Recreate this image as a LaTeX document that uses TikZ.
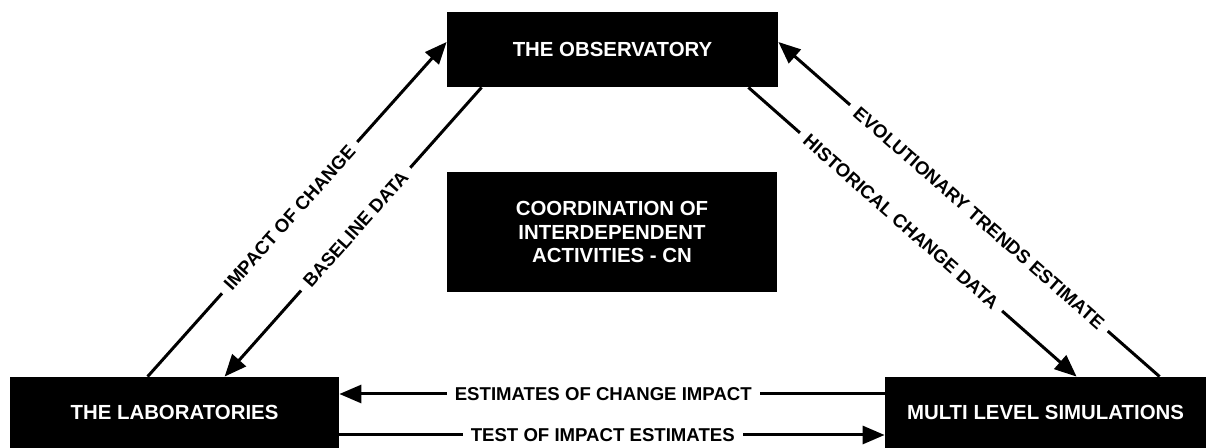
\documentclass[tikz,border=0pt]{standalone}
\usepackage{fontspec}
\setmainfont{Liberation Sans}
\usetikzlibrary{arrows.meta}
\begin{document}
\begin{tikzpicture}[x=0.5pt,y=-0.5pt,
 box/.style={fill=black, text=white, font=\fontsize{10.2}{11.6}\selectfont\bfseries, inner sep=0pt, align=center},
 arr/.style={line width=1.5pt, -{Triangle[length=11pt,width=9pt]}},
 lbl/.style={fill=white, font=\fontsize{9.3}{10}\selectfont\bfseries, inner xsep=4pt, inner ysep=1pt, sloped}]
\useasboundingbox (0,0) rectangle (1206,448);
\node[box, minimum width=165.5pt, minimum height=37.5pt] (obs) at (612.5,49.5) {THE OBSERVATORY};
\node[box, minimum width=165pt, minimum height=60pt] (coord) at (612,232) {COORDINATION OF\\INTERDEPENDENT\\ACTIVITIES - CN};
\node[box, minimum width=164.5pt, minimum height=35.5pt] (lab) at (174.5,412.5) {THE LABORATORIES};
\node[box, minimum width=160.5pt, minimum height=35.5pt] (sim) at (1045.5,412.5) {MULTI LEVEL SIMULATIONS};

\draw[arr] ([xshift=69pt]lab.north west) -- node[lbl, pos=0.475] {IMPACT OF CHANGE} ([yshift=3.75pt]obs.west);
\draw[arr] ([xshift=17.5pt]obs.south west) -- node[lbl, pos=0.49] {BASELINE DATA} ([xshift=107.5pt]lab.north west);
\draw[arr] ([xshift=-15pt]obs.south east) -- node[lbl, pos=0.465] {HISTORICAL CHANGE DATA} ([xshift=96pt]sim.north west);
\draw[arr] ([xshift=137.5pt]sim.north west) -- node[lbl, pos=0.474] {EVOLUTIONARY TRENDS ESTIMATE} ([yshift=3.75pt]obs.east);
\draw[arr] ([yshift=9.25pt]sim.west) -- node[lbl, pos=0.516] {ESTIMATES OF CHANGE IMPACT} ([yshift=9.25pt]lab.east);
\draw[arr] ([yshift=-11.25pt]lab.east) -- node[lbl, pos=0.483] {TEST OF IMPACT ESTIMATES} ([yshift=-11.25pt]sim.west);
\end{tikzpicture}
\end{document}
